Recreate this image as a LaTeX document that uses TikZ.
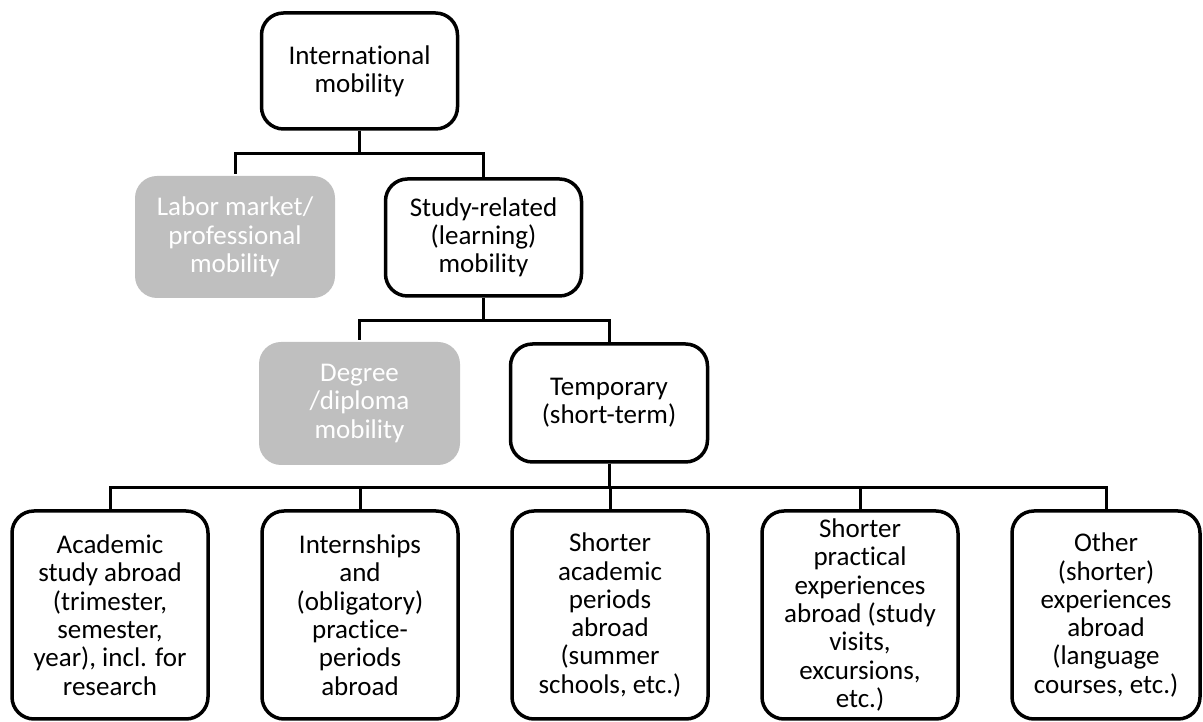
\documentclass[tikz,border=0pt]{standalone}
\usepackage{fontspec}
\setmainfont{Carlito}[Ligatures=NoCommon]
\usetikzlibrary{positioning}

\begin{document}
\begin{tikzpicture}[x=1pt, y=1pt,
    box/.style={draw, line width=3.5pt, rounded corners=22pt, fill=white,
                align=center, inner sep=2pt,
                font=\fontsize{27}{28.3}\selectfont},
    greybox/.style={box, draw=none, fill=grey, text=white},
    leaf/.style={box, minimum width=196pt, minimum height=208pt},
    link/.style={line width=3pt}]
  \definecolor{grey}{HTML}{BFBFBF}
  \useasboundingbox (0,0) rectangle (1203,722);

  % Upper levels
  \node[box, minimum width=196pt, minimum height=116pt] (intl) at (359.5,651)
    {International\\mobility};
  \node[greybox, minimum width=200pt, minimum height=122pt] (labor) at (235,485)
    {Labor market/\\professional\\mobility};
  \node[box, minimum width=196pt, minimum height=117pt] (study) at (483.5,484.5)
    {Study-related\\(learning)\\mobility};
  \node[greybox, minimum width=201pt, minimum height=123pt] (degree) at (359.5,318.5)
    {Degree\\/diploma\\mobility};
  \node[box, minimum width=197pt, minimum height=118pt] (temp) at (609,319)
    {Temporary\\(short-term)};

  % Bottom row
  \node[leaf] (acad) at (110,107)
    {Academic\\study abroad\\(trimester,\\semester,\\year), incl. for\\research};
  \node[leaf, right=50.5pt of acad] (intern)
    {Internships\\and\\(obligatory)\\practice-\\periods\\abroad};
  \node[leaf, right=50.5pt of intern] (shortacad)
    {Shorter\\academic\\periods\\abroad\\(summer\\schools, etc.)};
  \node[leaf, right=50.5pt of shortacad] (practical)
    {Shorter\\practical\\experiences\\abroad (study\\visits,\\excursions,\\etc.)};
  \node[leaf, minimum width=188pt, right=50.5pt of practical] (other)
    {Other\\(shorter)\\experiences\\abroad\\(language\\courses, etc.)};

  % Tree connectors
  \draw[link] (intl.south) -- ++(0,-23) -| (labor.north);
  \draw[link] (intl.south) -- ++(0,-23) -| (study.north);
  \draw[link] (study.south) -- ++(0,-23) -| (degree.north);
  \draw[link] (study.south) -- ++(0,-23) -| (temp.north);
  \foreach \b in {acad, intern, shortacad, practical, other}
    \draw[link] (temp.south) -- ++(0,-24) -| (\b.north);
\end{tikzpicture}
\end{document}
